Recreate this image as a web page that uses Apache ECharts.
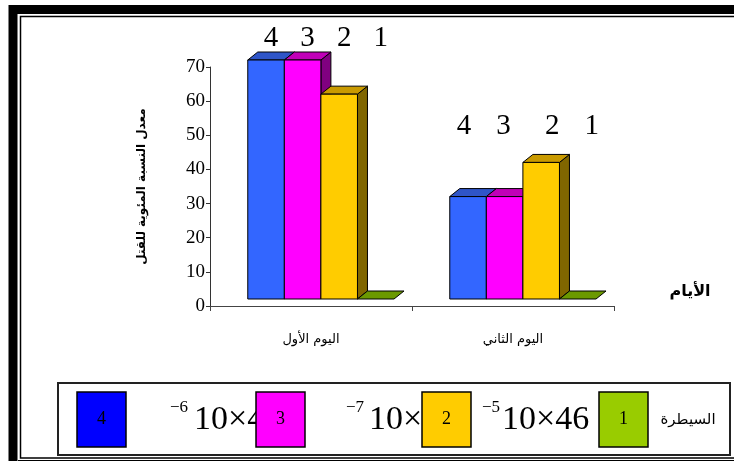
<!DOCTYPE html>
<html>
<head>
<meta charset="utf-8">
<script src="https://cdn.jsdelivr.net/npm/echarts@6/dist/echarts.min.js"></script>
<style>
  html, body { margin: 0; padding: 0; background: #fff; }
  #chart { width: 734px; height: 461px; }
</style>
</head>
<body>
<div id="chart"></div>
<script>
  // categories and series values (percent killed)
  var days = ['اليوم الأول', 'اليوم الثاني']
  var seriesNames = ['4', '3', '2', '1']
  var values4 = [70, 30]
  var values3 = [70, 30]
  var values2 = [60, 40]
  var values1 = [0, 0]
  var yTicks = { min: 0, max: 70, interval: 10 }

  // legend texts (concentrations)
  var legendBase = ['10×4', '10×', '10×46']
  var legendExp = ['−6', '−7', '−5']
  var controlName = 'السيطرة'

  // colours: front, top, side
  var palette = [
    ['#3366FF', '#2F55C8', '#1A3380'],
    ['#FF00FF', '#C000B8', '#800080'],
    ['#FFCC00', '#C99A00', '#806600'],
    ['#99CC00', '#6B9900', '#4D6600'],
  ]
  var legendColors = ['#0000FF', '#FF00FF', '#FFCC00', '#99CC00']

  var DX = 10
  var DY = 8
  var LIFT = 7
  var labelRowAt = [78.5, 52.5] // value level of the number row above each group
  var labelShift = [[0, 0, 0, 0], [-9, -6, 6, 9]] // small nudges per group

  var chart = echarts.init(document.getElementById('chart'))

  function barRenderer(k) {
    return function (params, api) {
      var cat = api.value(0)
      var v = api.value(1)
      var base = api.coord([cat, 0])
      var top = api.coord([cat, v])
      var bw = api.size([1, 0])[0]
      var w = bw * 0.181
      var x0 = base[0] - bw * 0.313 + k * w
      var x1 = x0 + w
      var y0 = base[1] - LIFT
      var y1 = top[1] - LIFT
      var col = palette[k]
      var line = { stroke: '#000', lineWidth: 1 }
      var children = []
      if (y0 - y1 > 0.5) {
        children.push({
          type: 'polygon',
          shape: { points: [[x1, y1], [x1 + DX, y1 - DY], [x1 + DX, y0 - DY], [x1, y0]] },
          style: Object.assign({ fill: col[2] }, line),
        })
      }
      children.push({
        type: 'polygon',
        shape: { points: [[x0, y1], [x0 + DX, y1 - DY], [x1 + DX, y1 - DY], [x1, y1]] },
        style: Object.assign({ fill: col[1] }, line),
      })
      if (y0 - y1 > 0.5) {
        children.push({
          type: 'rect',
          shape: { x: x0, y: y1, width: w, height: y0 - y1 },
          style: Object.assign({ fill: col[0] }, line),
        })
      }
      var ly = api.coord([cat, labelRowAt[cat]])[1]
      children.push({
        type: 'text',
        x: x0 + w / 2 + DX / 2 + labelShift[cat][k],
        y: ly,
        style: {
          text: seriesNames[k],
          fill: '#000',
          font: '29px "Liberation Serif"',
          align: 'center',
          verticalAlign: 'middle',
        },
      })
      return { type: 'group', children: children }
    }
  }

  var allValues = [values4, values3, values2, values1]
  var series = allValues.map(function (vals, k) {
    return {
      type: 'custom',
      name: seriesNames[k],
      renderItem: barRenderer(k),
      encode: { x: 0, y: 1 },
      data: vals.map(function (v, i) { return [i, v] }),
      z: 2 + k,
    }
  })

  // legend box drawn as graphics
  var legendItems = []
  var boxX = [77, 256, 422, 599]
  legendColors.forEach(function (c, i) {
    legendItems.push({
      type: 'rect',
      shape: { x: boxX[i], y: 392, width: 49, height: 55 },
      style: { fill: c, stroke: '#000', lineWidth: 1.5 },
      z: 10,
    })
    legendItems.push({
      type: 'text',
      x: boxX[i] + 24.5,
      y: 419,
      style: { text: seriesNames[i], font: '18px "Liberation Serif"', fill: '#000', align: 'center', verticalAlign: 'middle' },
      z: 11,
    })
  })
  var baseX = [194, 369, 502]
  var expX = [170, 346, 482]
  legendBase.forEach(function (t, i) {
    legendItems.push({
      type: 'text',
      x: baseX[i],
      y: 420,
      style: { text: t, font: '34px "Liberation Serif"', fill: '#000', align: 'left', verticalAlign: 'middle' },
      z: 9,
    })
    legendItems.push({
      type: 'text',
      x: expX[i],
      y: 408,
      style: { text: legendExp[i], font: '17px "Liberation Serif"', fill: '#000', align: 'left', verticalAlign: 'middle' },
      z: 9,
    })
  })
  legendItems.push({
    type: 'text',
    x: 688,
    y: 420,
    style: { text: controlName, font: '15px "DejaVu Sans"', fill: '#000', align: 'center', verticalAlign: 'middle' },
    z: 9,
  })

  chart.setOption({
    backgroundColor: '#fff',
    animation: false,
    grid: { left: 210, right: 120, top: 67, bottom: 155 },
    xAxis: {
      type: 'category',
      data: days,
      boundaryGap: true,
      axisLine: { lineStyle: { color: '#444', width: 1 } },
      axisTick: { show: true, length: 5, lineStyle: { color: '#444' } },
      axisLabel: { margin: 27, color: '#000', fontFamily: 'DejaVu Sans', fontSize: 13 },
    },
    yAxis: {
      type: 'value',
      min: yTicks.min,
      max: yTicks.max,
      interval: yTicks.interval,
      name: 'معدل النسبة المئوية للقتل',
      nameLocation: 'middle',
      nameRotate: 90,
      nameGap: 62,
      nameTextStyle: { color: '#000', fontFamily: 'DejaVu Sans', fontWeight: 'bold', fontSize: 12 },
      axisLine: { show: true, lineStyle: { color: '#333', width: 1 } },
      axisTick: { show: true, length: 4, lineStyle: { color: '#333' } },
      axisLabel: { margin: 5, color: '#000', fontFamily: 'Liberation Serif', fontSize: 19 },
      splitLine: { show: false },
    },
    series: series,
    graphic: [
      // page frame
      { type: 'rect', shape: { x: 13, y: 9.5, width: 760, height: 480 }, style: { fill: 'none', stroke: '#000', lineWidth: 9 } },
      { type: 'rect', shape: { x: 20.5, y: 16.5, width: 760, height: 441.5 }, style: { fill: 'none', stroke: '#000', lineWidth: 1.5 } },
      { type: 'line', shape: { x1: 18, y1: 460.5, x2: 734, y2: 460.5 }, style: { stroke: '#000', lineWidth: 1 } },
      // x axis title
      {
        type: 'text',
        x: 690,
        y: 292,
        style: { text: 'الأيام', font: 'bold 16px "DejaVu Sans"', fill: '#000', align: 'center', verticalAlign: 'middle' },
      },
      // legend frame
      { type: 'rect', shape: { x: 58, y: 383, width: 672, height: 72 }, style: { fill: '#fff', stroke: '#222', lineWidth: 2 }, z: 5 },
    ].concat(legendItems),
  })
</script>
</body>
</html>
